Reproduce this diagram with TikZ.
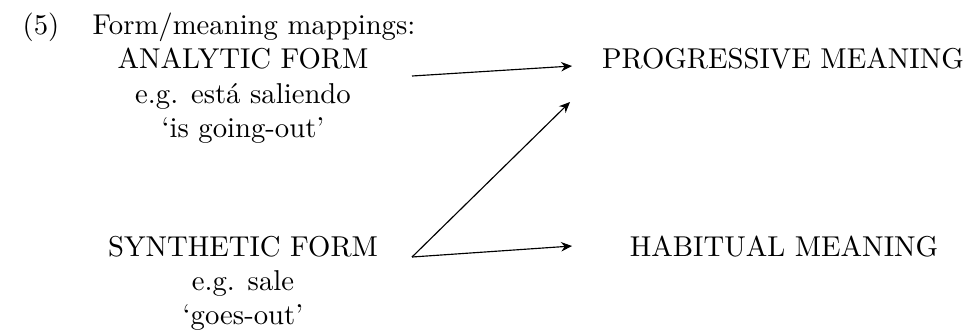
\documentclass[tikz,border=0pt]{standalone}
\usetikzlibrary{arrows.meta}
\begin{document}
\begin{tikzpicture}[x=0.3484pt,y=-0.3484pt,
  lbl/.style={anchor=base,inner sep=0pt},
  map/.style={line width=0.4pt,-{Stealth[length=3.8pt,width=3.3pt]}}]
\useasboundingbox (0,0) rectangle (969,329);
% heading
\node[lbl] (num) at (41,34) {(5)};
\node[lbl,anchor=base west] (head) at (92,34) {Form/meaning mappings:};
% form side
\node[lbl] (af) at (243,68.5) {ANALYTIC FORM};
\node[lbl] (afex) at (243,103) {e.g. está saliendo};
\node[lbl] (afgl) at (243,137.5) {`is going-out'};
\node[lbl] (sf) at (243,256) {SYNTHETIC FORM};
\node[lbl] (sfex) at (243,290) {e.g. sale};
\node[lbl] (sfgl) at (243,324) {`goes-out'};
% meaning side
\node[lbl] (pm) at (783,68.5) {PROGRESSIVE MEANING};
\node[lbl] (hm) at (784,256) {HABITUAL MEANING};
% arrow ends
\coordinate (afout) at (412,76);
\coordinate (sfout) at (412,257);
\coordinate (pmin) at (572,66);
\coordinate (pmlow) at (570,102);
\coordinate (hmin) at (572,246);
\draw[map] (afout) -- (pmin);
\draw[map] (sfout) -- (pmlow);
\draw[map] (sfout) -- (hmin);
\end{tikzpicture}
\end{document}
